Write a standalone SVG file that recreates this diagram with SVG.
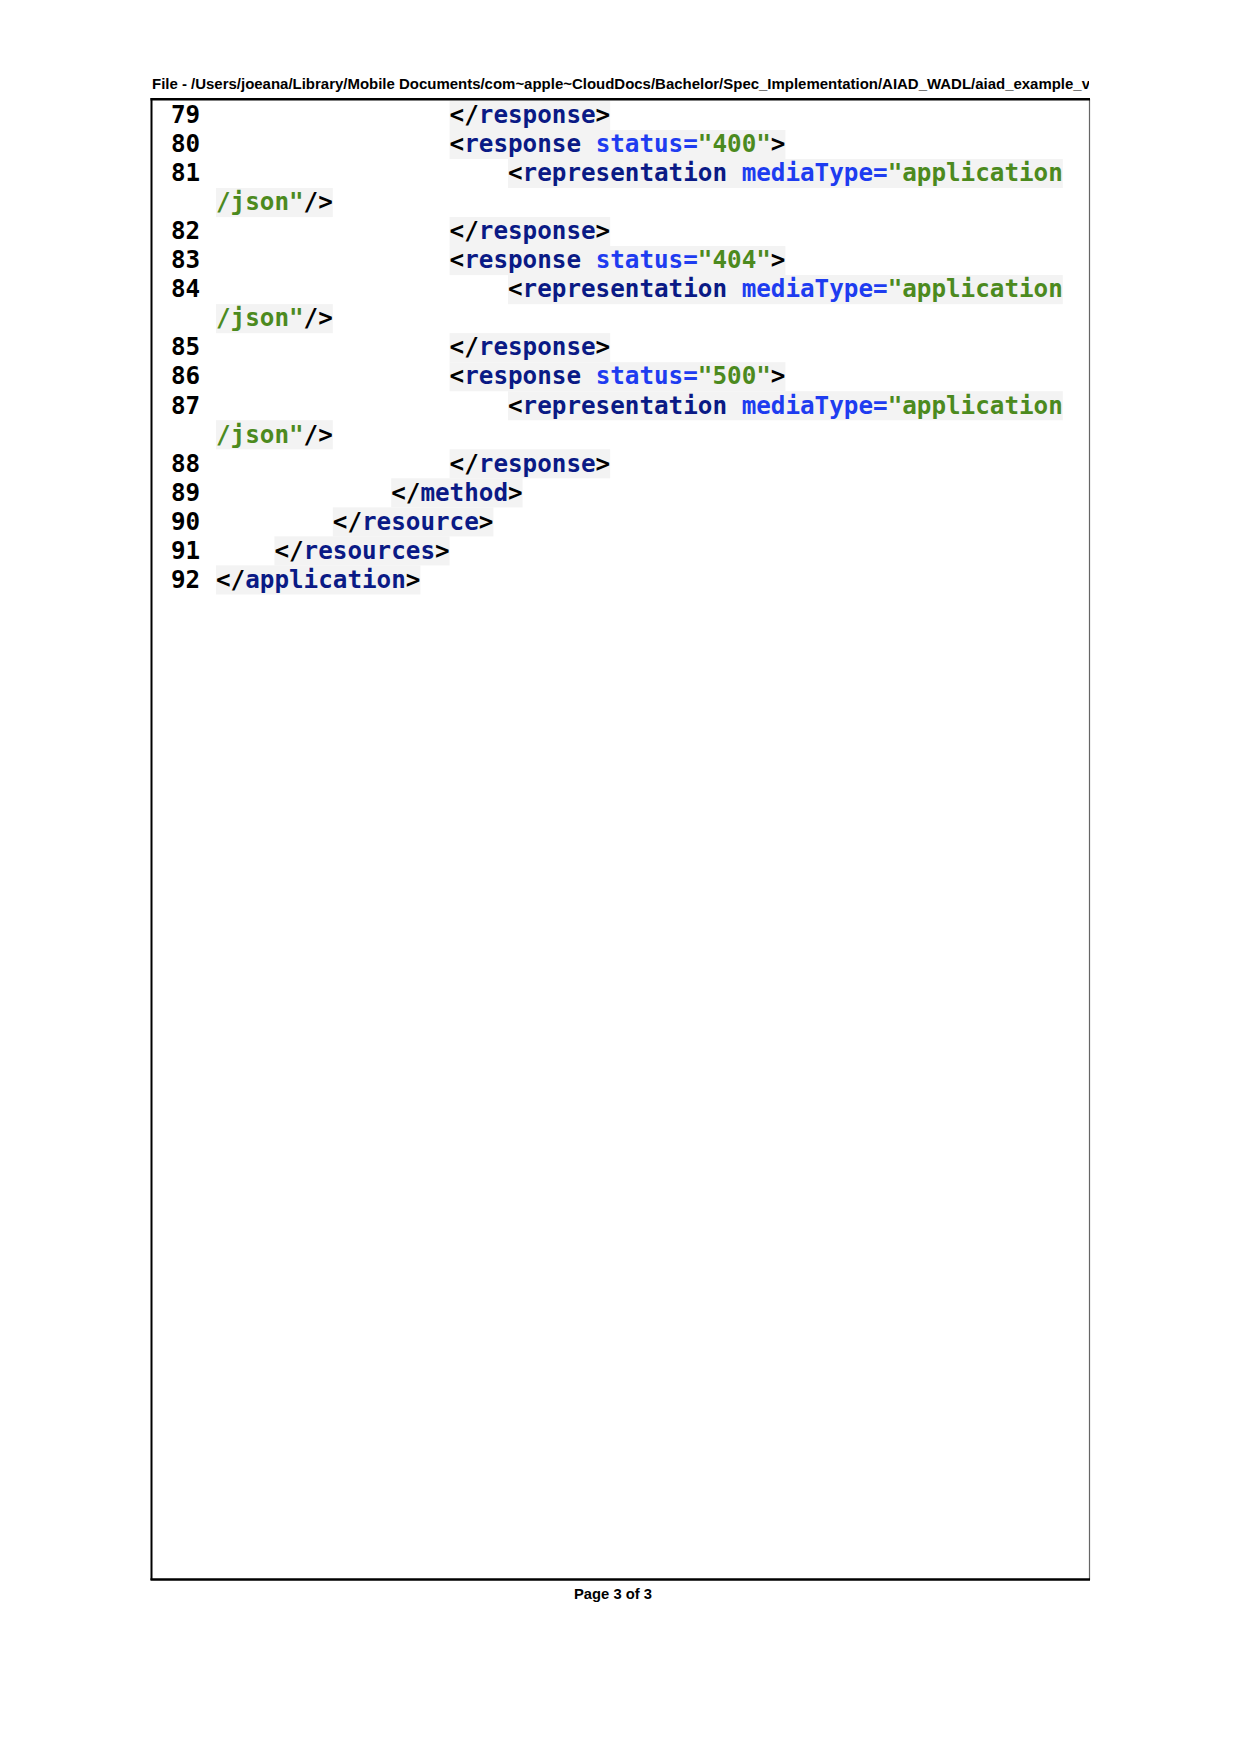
<svg xmlns="http://www.w3.org/2000/svg" width="1240" height="1753" viewBox="0 0 1240 1753">
<style>
.code{font-family:"DejaVu Sans Mono","Liberation Mono",monospace;font-weight:bold;font-size:24.25px;fill:#000}
.ln{font-family:"DejaVu Sans Mono","Liberation Mono",monospace;font-weight:bold;font-size:24.25px;fill:#000}
.t{fill:#0a1a85}
.a{fill:#1e3cf0}
.v{fill:#4c8a1e}
.bg{fill:#f3f3f3}
.hdr{font-family:"Liberation Sans",Arial,sans-serif;font-size:15px;font-weight:bold;fill:#000}
</style>
<defs>
<clipPath id="hclip"><rect x="140" y="60" width="949" height="40"/></clipPath>
</defs>
<rect x="0" y="0" width="1240" height="1753" fill="#fff"/>
<g id="header" clip-path="url(#hclip)">
<text class="hdr" x="152" y="89" textLength="938" lengthAdjust="spacingAndGlyphs">File - /Users/joeana/Library/Mobile Documents/com~apple~CloudDocs/Bachelor/Spec_Implementation/AIAD_WADL/aiad_example_v</text>
</g>
<g id="backgrounds">
<rect class="bg" x="449.6" y="100.9" width="160.6" height="29.1"/>
<rect class="bg" x="449.6" y="129.93" width="335.8" height="29.1"/>
<rect class="bg" x="508" y="158.96" width="554.8" height="29.1"/>
<rect class="bg" x="216" y="187.99" width="116.8" height="29.1"/>
<rect class="bg" x="449.6" y="217.02" width="160.6" height="29.1"/>
<rect class="bg" x="449.6" y="246.05" width="335.8" height="29.1"/>
<rect class="bg" x="508" y="275.08" width="554.8" height="29.1"/>
<rect class="bg" x="216" y="304.11" width="116.8" height="29.1"/>
<rect class="bg" x="449.6" y="333.14" width="160.6" height="29.1"/>
<rect class="bg" x="449.6" y="362.17" width="335.8" height="29.1"/>
<rect class="bg" x="508" y="391.2" width="554.8" height="29.1"/>
<rect class="bg" x="216" y="420.23" width="116.8" height="29.1"/>
<rect class="bg" x="449.6" y="449.26" width="160.6" height="29.1"/>
<rect class="bg" x="391.2" y="478.29" width="131.4" height="29.1"/>
<rect class="bg" x="332.8" y="507.32" width="160.6" height="29.1"/>
<rect class="bg" x="274.4" y="536.35" width="175.2" height="29.1"/>
<rect class="bg" x="216" y="565.38" width="204.4" height="29.1"/>
</g>
<g id="line-numbers">
<text class="ln" x="171" y="123.2">79</text>
<text class="ln" x="171" y="152.23">80</text>
<text class="ln" x="171" y="181.26">81</text>
<text class="ln" x="171" y="239.32">82</text>
<text class="ln" x="171" y="268.35">83</text>
<text class="ln" x="171" y="297.38">84</text>
<text class="ln" x="171" y="355.44">85</text>
<text class="ln" x="171" y="384.47">86</text>
<text class="ln" x="171" y="413.5">87</text>
<text class="ln" x="171" y="471.56">88</text>
<text class="ln" x="171" y="500.59">89</text>
<text class="ln" x="171" y="529.62">90</text>
<text class="ln" x="171" y="558.65">91</text>
<text class="ln" x="171" y="587.68">92</text>
</g>
<g id="code">
<text class="code" xml:space="preserve" x="449.6" y="123.2">&lt;/<tspan class="t">response</tspan>&gt;</text>
<text class="code" xml:space="preserve" x="449.6" y="152.23">&lt;<tspan class="t">response</tspan> <tspan class="a">status=</tspan><tspan class="v">"400"</tspan>&gt;</text>
<text class="code" xml:space="preserve" x="508" y="181.26">&lt;<tspan class="t">representation</tspan> <tspan class="a">mediaType=</tspan><tspan class="v">"application</tspan></text>
<text class="code" xml:space="preserve" x="216" y="210.29"><tspan class="v">/json"</tspan>/&gt;</text>
<text class="code" xml:space="preserve" x="449.6" y="239.32">&lt;/<tspan class="t">response</tspan>&gt;</text>
<text class="code" xml:space="preserve" x="449.6" y="268.35">&lt;<tspan class="t">response</tspan> <tspan class="a">status=</tspan><tspan class="v">"404"</tspan>&gt;</text>
<text class="code" xml:space="preserve" x="508" y="297.38">&lt;<tspan class="t">representation</tspan> <tspan class="a">mediaType=</tspan><tspan class="v">"application</tspan></text>
<text class="code" xml:space="preserve" x="216" y="326.41"><tspan class="v">/json"</tspan>/&gt;</text>
<text class="code" xml:space="preserve" x="449.6" y="355.44">&lt;/<tspan class="t">response</tspan>&gt;</text>
<text class="code" xml:space="preserve" x="449.6" y="384.47">&lt;<tspan class="t">response</tspan> <tspan class="a">status=</tspan><tspan class="v">"500"</tspan>&gt;</text>
<text class="code" xml:space="preserve" x="508" y="413.5">&lt;<tspan class="t">representation</tspan> <tspan class="a">mediaType=</tspan><tspan class="v">"application</tspan></text>
<text class="code" xml:space="preserve" x="216" y="442.53"><tspan class="v">/json"</tspan>/&gt;</text>
<text class="code" xml:space="preserve" x="449.6" y="471.56">&lt;/<tspan class="t">response</tspan>&gt;</text>
<text class="code" xml:space="preserve" x="391.2" y="500.59">&lt;/<tspan class="t">method</tspan>&gt;</text>
<text class="code" xml:space="preserve" x="332.8" y="529.62">&lt;/<tspan class="t">resource</tspan>&gt;</text>
<text class="code" xml:space="preserve" x="274.4" y="558.65">&lt;/<tspan class="t">resources</tspan>&gt;</text>
<text class="code" xml:space="preserve" x="216" y="587.68">&lt;/<tspan class="t">application</tspan>&gt;</text>
</g>
<g id="frame">
<line x1="1089.5" y1="99" x2="1089.5" y2="1580" stroke="#666" stroke-width="1.2"/>
<line x1="151.5" y1="98" x2="151.5" y2="1580" stroke="#000" stroke-width="2"/>
<line x1="150.5" y1="99.3" x2="1090" y2="99.3" stroke="#000" stroke-width="2.6"/>
<line x1="150.5" y1="1579.5" x2="1090" y2="1579.5" stroke="#000" stroke-width="2.6"/>
</g>
<g id="footer">
<text class="hdr" x="574" y="1599" textLength="78" lengthAdjust="spacingAndGlyphs">Page 3 of 3</text>
</g>
</svg>
